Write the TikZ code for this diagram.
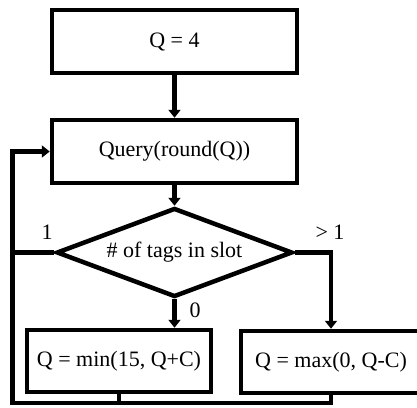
\documentclass[tikz,border=0pt]{standalone}
\usepackage{fontspec}
\setmainfont{Liberation Serif}
\usetikzlibrary{shapes.geometric,arrows.meta}
\begin{document}
\begin{tikzpicture}[x=1pt,y=-1pt,
  every node/.style={font=\fontsize{22}{26}\selectfont},
  box/.style={draw,line width=4.5pt,rectangle,inner sep=0pt},
  dia/.style={draw,line width=4.5pt,diamond,aspect=2.65,inner sep=0pt,minimum width=236pt,minimum height=89pt},
  conn/.style={line width=4.5pt},
  arr/.style={line width=4.5pt,-{Triangle[width=12pt,length=8pt]}},
  lbl/.style={inner sep=0pt}]
\clip (0,0) rectangle (417,407);
\node[box,minimum width=245pt,minimum height=63pt] (init) at (174.5,41.5) {Q = 4};
\node[box,minimum width=245pt,minimum height=63pt] (q) at (174.5,151.5) {Query(round(Q))};
\node[dia] (d) at (174.5,252.5) {\# of tags in slot};
\node[box,minimum width=184pt,minimum height=62pt] (lb) at (119,361) {Q = min(15, Q+C)};
\node[box,minimum width=180pt,minimum height=62pt] (rb) at (331,362) {Q = max(0, Q-C)};
\coordinate (corner) at (12.5,403);
\draw[arr] (init) -- (q);
\draw[arr] (q) -- (d);
\draw[arr] (d.south) -- (d.south |- lb.north);
\draw[arr] (d.east) -| (rb.north);
\draw[conn] (d.west) -- (d.west -| corner);
\draw[conn] (lb.south) -- (lb.south |- corner);
\draw[arr] (rb.south) |- (corner) |- (q.west);
\node[lbl] (one) at (47,232) {1};
\node[lbl] (gt) at (330,232) {> 1};
\node[lbl] (zero) at (195,310) {0};
\end{tikzpicture}
\end{document}
